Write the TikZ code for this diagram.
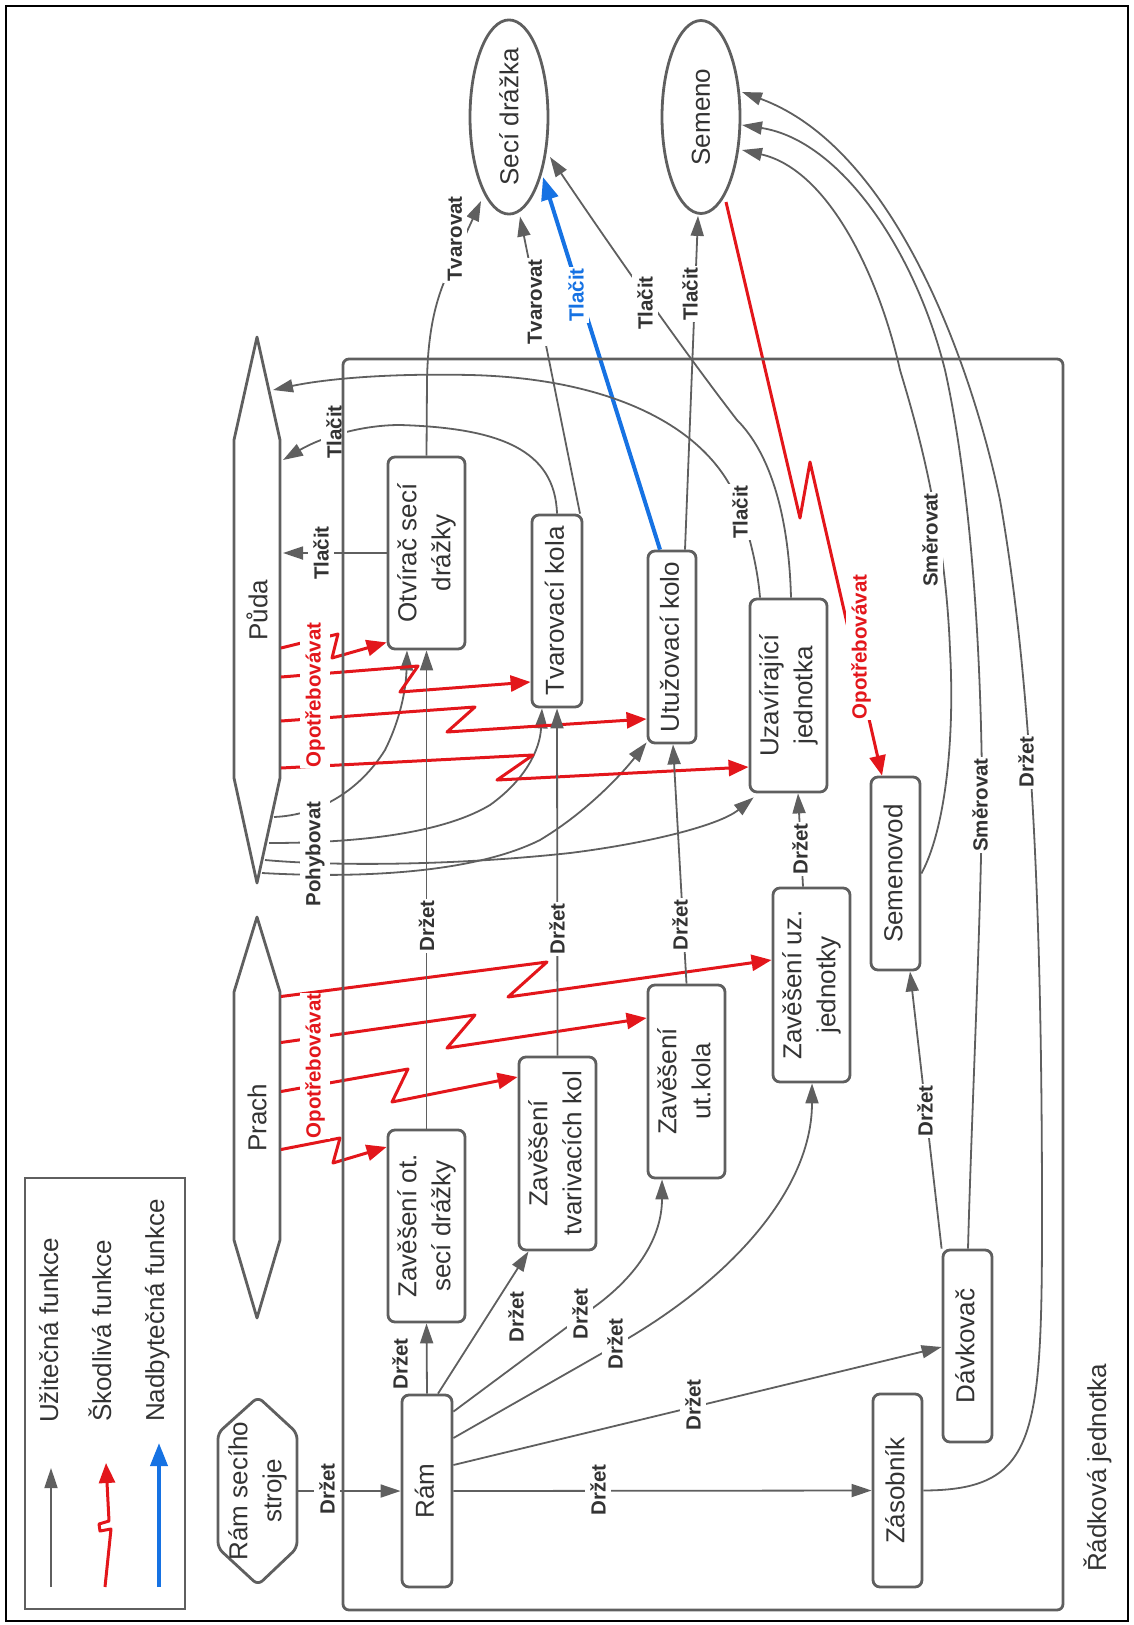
\documentclass[tikz,border=0pt]{standalone}
\usepackage{fontspec}
\setmainfont{Liberation Sans}
\usepackage{graphicx}
\usetikzlibrary{arrows.meta,shapes.geometric,calc}
\definecolor{lg}{HTML}{5F5F5F}
\definecolor{tx}{HTML}{333333}
\definecolor{rd}{HTML}{E3161B}
\definecolor{bl}{HTML}{1672E3}
\newcommand{\rtxt}[1]{\rotatebox{90}{\begin{tabular}{@{}c@{}}#1\end{tabular}}}
\begin{document}
\begin{tikzpicture}[x=1pt,y=-1pt,
  box/.style={draw=lg,line width=2.8pt,rounded corners=7pt,fill=white,inner sep=2pt,text=tx,font=\fontsize{26}{34}\selectfont},
  ell/.style={draw=lg,line width=2.8pt,ellipse,fill=white,inner sep=0pt,text=tx,font=\fontsize{26}{34}\selectfont,minimum width=78pt,minimum height=193pt},
  shp/.style={draw=lg,line width=2.8pt,line join=round},
  conn/.style={draw=lg,line width=1.8pt,-{Triangle[length=20pt,width=13pt]}},
  harm/.style={draw=rd,line width=3pt,line join=round,-{Triangle[length=20pt,width=16pt]}},
  nadb/.style={draw=bl,line width=4pt,-{Triangle[length=23pt,width=17pt]}},
  lab/.style={rotate=90,fill=white,inner xsep=1pt,inner ysep=5pt,text=tx,font=\bfseries\fontsize{20.5}{24}\selectfont},
  rlab/.style={lab,text=rd},
  blab/.style={lab,text=bl},
  big/.style={text=tx,font=\fontsize{26}{30}\selectfont}]
\useasboundingbox (0,0) rectangle (1133,1625);
\draw[black,line width=2.4pt] (6,6) rectangle (1128,1621);

% ---------- legend ----------
\draw[lg,line width=2.6pt] (25,1178) rectangle (185,1609);
\coordinate (l1a) at (51,1587); \coordinate (l1b) at (51,1468);
\coordinate (l2a) at (105,1587); \coordinate (l2b) at (106,1463);
\coordinate (l3a) at (159,1587); \coordinate (l3b) at (159,1443);
\draw[conn] (l1a) -- (l1b);
\draw[harm] (l2a) -- (111,1529) -- (100,1531) -- (99,1524) -- (109,1521) -- (l2b);
\draw[nadb] (l3a) -- (l3b);
\node[big,rotate=90,anchor=base west,inner sep=0pt] (t1) at (58,1423) {Užitečná funkce};
\node[big,rotate=90,anchor=base west,inner sep=0pt] (t2) at (111,1422) {Škodlivá funkce};
\node[big,rotate=90,anchor=base west,inner sep=0pt] (t3) at (164,1422) {Nadbytečná funkce};

% ---------- outside objects ----------
\node[ell] (sd) at (509,117) {\rotatebox{90}{Secí drážka}};
\node[ell] (sem) at (701,117) {\rotatebox{90}{Semeno}};
\draw[shp] (257,337) -- (280,440) -- (280,778) -- (257,883) -- (234,778) -- (234,440) -- cycle;
\node[big,minimum width=47pt,minimum height=546pt,inner sep=0pt] (puda) at (257,610) {\rotatebox{90}{Půda}};
\draw[shp] (257,917) -- (280,992) -- (280,1240) -- (257,1318) -- (234,1240) -- (234,992) -- cycle;
\node[big,minimum width=47pt,minimum height=401pt,inner sep=0pt] (prach) at (257,1117.5) {\rotatebox{90}{Prach}};
\draw[shp,rounded corners=6pt] (258,1397) -- (297,1433) -- (297,1548) -- (258,1585) -- (218,1548) -- (218,1433) -- cycle;
\node[big,minimum width=79pt,minimum height=188pt,inner sep=0pt,font=\fontsize{26}{34}\selectfont] (rss) at (257.5,1491) {\rtxt{Rám secího\\stroje}};

% ---------- boxes ----------
\node[box,minimum width=77pt,minimum height=192pt] (otv) at (426.5,553) {\rtxt{Otvírač secí\\drážky}};
\node[box,minimum width=50pt,minimum height=192pt] (tk) at (557,611) {\rtxt{Tvarovací kola}};
\node[box,minimum width=48pt,minimum height=192pt] (uk) at (672,647) {\rtxt{Utužovací kolo}};
\node[box,minimum width=77pt,minimum height=193pt] (uj) at (788.5,695.5) {\rtxt{Uzavírající\\jednotka}};
\node[box,minimum width=49pt,minimum height=193pt] (svd) at (895.5,873.5) {\rtxt{Semenovod}};
\node[box,minimum width=77pt,minimum height=194pt] (zuj) at (811.5,985) {\rtxt{Zavěšení uz.\\jednotky}};
\node[box,minimum width=77pt,minimum height=193pt] (zuk) at (686.5,1081.5) {\rtxt{Zavěšení\\ut.kola}};
\node[box,minimum width=77pt,minimum height=193pt] (ztk) at (557.5,1153.5) {\rtxt{Zavěšení\\tvarivacích kol}};
\node[box,minimum width=77pt,minimum height=192pt] (zot) at (426.5,1226) {\rtxt{Zavěšení ot.\\secí drážky}};
\node[box,minimum width=50pt,minimum height=192pt] (ram) at (427,1491) {\rtxt{Rám}};
\node[box,minimum width=49pt,minimum height=193pt] (zas) at (897.5,1490.5) {\rtxt{Zásobník}};
\node[box,minimum width=49pt,minimum height=192pt] (dav) at (967.5,1346) {\rtxt{Dávkovač}};

% ---------- useful functions to Seci drazka / Semeno ----------
\draw[conn] (otv.north) -- (427,380) .. controls (428,330) and (436,300) .. (447,275) -- ($(sd.center)+(-28,84)$);
\draw[conn] ($(tk.north)+(23,0)$) -- ($(sd.south)+(11,1)$);
\draw[nadb] ($(uk.north)+(-12,0)$) -- ($(sd.center)+(34,60)$);
\draw[conn] ($(uk.north)+(13,0)$) -- ($(sem.south)+(-3,1)$);
\draw[conn] ($(uj.north)+(2.5,0)$) .. controls (789,520) and (772,455) .. (737,420) .. controls (700,372) and (640,290) .. ($(sd.center)+(41,40)$);

% ---------- to Puda ----------
\draw[conn] ($(uj.north)+(-28.5,0)$) .. controls (757,560) and (745,520) .. (735,495) .. controls (700,420) and (600,378) .. (470,375) .. controls (380,373) and (320,380) .. ($(puda.center)+(16,-220)$);
\draw[conn] (tk.north) .. controls (555,450) and (500,428) .. (400,425) .. controls (360,425) and (320,438) .. ($(puda.center)+(26,-150)$);
\draw[conn] (otv.west) -- ($(puda.center)+(26,-57)$);

% ---------- Pohybovat ----------
\draw[conn] ($(puda.center)+(17,207)$) .. controls (320,815) and (360,790) .. (385,750) .. controls (400,720) and (406,690) .. ($(otv.south)+(-19.5,0)$);
\draw[conn] ($(puda.center)+(12,233)$) .. controls (350,843) and (440,835) .. (490,805) .. controls (525,780) and (540,750) .. ($(tk.south)+(-15,0)$);
\draw[conn] ($(puda.center)+(8,250)$) .. controls (330,866) and (450,866) .. (570,853) .. controls (650,843) and (720,825) .. ($(uj.south west)+(5,4)$);
\draw[conn] ($(puda.center)+(5,263)$) .. controls (350,878) and (470,875) .. (540,840) .. controls (590,810) and (625,770) .. ($(uk.south west)+(0,-2)$);

% ---------- harmful: Puda ----------
\draw[harm] ($(puda.center)+(24,38)$) -- (338,634) -- (332,658) -- ($(otv.south west)+(0,-8)$);
\draw[harm] ($(puda.center)+(24,67)$) -- (418,666) -- (400,692) -- ($(tk.west)+(0,71)$);
\draw[harm] ($(puda.center)+(24,111)$) -- (475,707) -- (447,732) -- ($(uk.west)+(0,72)$);
\draw[harm] ($(puda.center)+(24,158)$) -- (533,755) -- (497,780) -- ($(uj.west)+(0,71.5)$);
% ---------- harmful: Prach ----------
\draw[harm] ($(prach.center)+(24,-121)$) -- (547,962) -- (508,997) -- ($(zuj.west)+(0,-25)$);
\draw[harm] ($(prach.center)+(24,-75)$) -- (475,1015) -- (447,1048) -- ($(zuk.west)+(0,-63.5)$);
\draw[harm] ($(prach.center)+(24,-26)$) -- (408,1069) -- (392,1102) -- ($(ztk.west)+(0,-76.5)$);
\draw[harm] ($(prach.center)+(24,32)$) -- (340,1138) -- (333,1163) -- ($(zot.west)+(0,-79)$);
% ---------- harmful: Semeno ----------
\draw[harm] ($(sem.center)+(25,85)$) -- (800,518) -- (810,462) -- ($(svd.north)+(-13.5,0)$);

% ---------- Drzet ----------
\draw[conn] (rss.east) -- (ram.west);
\draw[conn] (ram.north) -- (zot.south);
\draw[conn] ($(ram.north)+(11,0)$) -- ($(ztk.south)+(-29,0)$);
\draw[conn] ($(ram.north east)+(0,18)$) -- (590,1310) .. controls (640,1275) and (662,1235) .. ($(zuk.south)+(-24.5,0)$);
\draw[conn] ($(ram.east)+(0,-53)$) -- (620,1343) .. controls (730,1280) and (812,1190) .. ($(zuj.south)+(0.5,0)$);
\draw[conn] ($(ram.east)+(0,-26)$) -- ($(dav.west)+(0,1)$);
\draw[conn] (ram.east) -- (zas.west);
\draw[conn] (zot.north) -- (otv.south);
\draw[conn] (ztk.north) -- (tk.south);
\draw[conn] (zuk.north) -- ($(uk.south)+(1,0)$);
\draw[conn] ($(zuj.north)+(-8.5,0)$) -- ($(uj.south)+(9.5,0)$);
\draw[conn] (dav.north west) -- ($(svd.south)+(14.5,0)$);
\draw[conn] (zas.east) .. controls (1035,1490) and (1042,1440) .. (1042,1220) .. controls (1042,950) and (1035,700) .. (1000,500) .. controls (975,380) and (900,150) .. ($(sem.center)+(41,-25)$);
\draw[conn] ($(dav.north)+(0.5,0)$) .. controls (972,1100) and (982,900) .. (982,780) .. controls (980,600) and (965,460) .. (945,370) .. controls (915,250) and (840,140) .. ($(sem.center)+(41,8)$);
\draw[conn] (svd.east) .. controls (945,830) and (955,740) .. (950,650) .. controls (945,520) and (915,420) .. (900,370) .. controls (880,280) and (830,170) .. ($(sem.center)+(41,33)$);

% ---------- labels ----------
\node[lab] (lb1) at (455,239) {Tvarovat};
\node[lab] (lb2) at (535,302) {Tvarovat};
\node[blab] (lb3) at (576,295) {Tlačit};
\node[lab] (lb4) at (645,303) {Tlačit};
\node[lab] (lb5) at (690,294) {Tlačit};
\node[lab] (lb6) at (740,512) {Tlačit};
\node[lab] (lb7) at (334,432) {Tlačit};
\node[lab] (lb8) at (321,553) {Tlačit};
\node[rlab] (lb9) at (315,695) {Opotřebovávat};
\node[lab] (lb10) at (315,854) {Pohybovat};
\node[rlab] (lb11) at (315,1066) {Opotřebovávat};
\node[rlab] (lb12) at (861,647) {Opotřebovávat};
\node[lab] (lb13) at (426.5,926) {Držet};
\node[lab] (lb14) at (557,929) {Držet};
\node[lab] (lb15) at (680,925) {Držet};
\node[lab] (lb16) at (800,849) {Držet};
\node[lab] (lb17) at (925,1111) {Držet};
\node[lab] (lb18) at (1026,762) {Držet};
\node[lab] (lb19) at (980,805) {Směrovat};
\node[lab] (lb20) at (930,540) {Směrovat};
\node[lab] (lb21) at (327,1489) {Držet};
\node[lab,fill=none] (lb22) at (400,1364) {Držet};
\node[lab,fill=none] (lb23) at (516,1317) {Držet};
\node[lab] (lb24) at (580,1314) {Držet};
\node[lab] (lb25) at (615,1344) {Držet};
\node[lab] (lb26) at (693,1405) {Držet};
\node[lab] (lb27) at (598,1490) {Držet};

% ---------- system boundary ----------
\draw[lg,line width=2.8pt,rounded corners=6pt] (343,359) rectangle (1063,1610);
\node[big,rotate=90,anchor=base west,inner sep=0pt] (rj) at (1106,1572) {Řádková jednotka};
\end{tikzpicture}
\end{document}
